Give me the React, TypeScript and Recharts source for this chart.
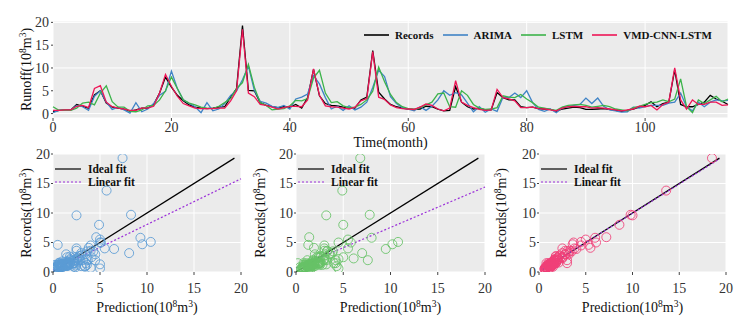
import {
  LineChart,
  Line,
  ScatterChart,
  Scatter,
  XAxis,
  YAxis,
  CartesianGrid,
  ReferenceLine,
  Legend,
  Label,
} from "recharts";

// monthly runoff, 10^8 m^3
const records = [
  0.4, 0.7, 0.8, 0.8, 2.0, 1.6, 1.2, 4.1, 5.0, 2.3,
  1.4, 1.2, 1.0, 0.5, 0.8, 1.2, 1.2, 2.0, 4.5, 8.0,
  5.8, 4.0, 2.8, 1.9, 1.4, 1.2, 1.1, 1.2, 1.4, 1.5,
  3.6, 5.5, 19.3, 5.1, 5.0, 2.4, 1.8, 1.5, 1.3, 1.5,
  1.4, 2.0, 1.2, 3.5, 9.7, 3.9, 2.2, 1.8, 1.7, 1.4,
  1.2, 1.2, 3.0, 3.6, 13.8, 4.7, 3.2, 2.0, 1.5, 1.2,
  1.0, 0.9, 1.0, 1.6, 1.5, 1.0, 0.6, 0.7, 5.9, 2.5,
  1.5, 1.0, 1.2, 0.8, 0.8, 4.6, 3.5, 3.0, 3.0, 1.5,
  1.3, 1.4, 1.1, 1.0, 0.9, 0.5, 1.0, 1.2, 1.4, 1.3,
  0.9, 0.9, 1.0, 1.1, 0.9, 0.7, 0.5, 0.7, 1.0, 1.4,
  1.8, 2.6, 1.5, 2.2, 2.5, 9.6, 2.0, 1.5, 1.5, 2.0,
  2.5, 4.0, 3.2, 2.7, 2.0,
];

const arima = [
  0.2, 0.7, 0.8, 0.8, 1.8, 1.5, 0.7, 3.8, 5.0, 2.5,
  0.9, 1.4, 0.8, 0.1, 2.4, 0.4, 1.0, 2.2, 4.0, 4.9,
  9.3, 5.5, 3.0, 2.2, 1.5, 0.2, 2.4, 0.6, 1.0, 2.2,
  4.0, 5.0, 7.4, 10.4, 5.1, 2.7, 2.3, 1.6, 1.3, 1.8,
  1.0, 3.2, 3.6, 4.3, 8.3, 6.5, 3.5, 1.0, 1.6, 0.7,
  1.7, 0.8, 1.4, 2.5, 5.7, 9.5, 8.1, 3.7, 2.2, 1.3,
  1.0, 0.6, 1.5, 0.7, 1.6, 3.0, 5.0, 4.0, 4.6, 4.1,
  2.3, 0.4, 1.5, 0.3, 1.0, 0.5, 3.6, 3.5, 4.5, 3.5,
  5.0, 2.4, 0.9, 0.5, 1.0, 0.2, 1.3, 1.5, 1.8, 2.0,
  3.4, 2.2, 3.4, 1.6, 0.8, 0.6, 0.3, 0.4, 1.4, 1.2,
  1.5, 1.8, 1.8, 1.8, 2.3, 2.5, 4.5, 1.5, 0.6, 2.5,
  1.5, 2.5, 3.0, 2.8, 2.9,
];

const lstm = [
  1.5, 0.7, 0.8, 0.7, 1.2, 2.3, 2.5, 1.9, 4.5, 6.1,
  2.6, 1.4, 1.4, 0.5, 0.4, 0.8, 1.7, 1.8, 3.0, 5.0,
  8.0, 5.5, 3.0, 2.3, 1.9, 1.4, 1.2, 1.1, 1.6, 2.4,
  3.3, 5.5, 6.8, 10.8, 5.8, 2.4, 1.8, 0.8, 1.0, 1.1,
  1.7, 2.9, 2.8, 3.3, 7.8, 9.5, 4.5, 2.4, 2.6, 1.7,
  1.3, 1.4, 2.0, 3.0, 4.9, 10.2, 7.0, 4.2, 2.4, 1.5,
  1.1, 0.9, 1.3, 1.9, 2.5, 4.3, 4.5, 1.5, 1.4, 5.0,
  4.0, 2.0, 1.2, 0.9, 1.0, 1.3, 3.9, 3.6, 3.5, 4.2,
  3.2, 2.4, 1.4, 1.2, 0.9, 0.7, 1.4, 1.8, 1.9, 2.0,
  1.8, 1.4, 1.6, 1.8, 1.5, 1.0, 0.8, 0.6, 1.3, 1.6,
  2.0, 2.4, 2.5, 3.0, 2.6, 3.2, 7.6, 1.5, 0.2, 3.0,
  2.2, 3.0, 3.8, 2.6, 3.2,
];

const vmdCnnLstm = [
  0.7, 0.7, 0.8, 0.8, 1.6, 1.8, 1.3, 5.5, 6.1, 2.5,
  1.5, 1.2, 1.0, 0.7, 0.7, 1.2, 1.2, 1.6, 4.5, 8.6,
  6.0, 3.8, 2.2, 1.7, 1.2, 1.1, 1.1, 1.1, 1.2, 1.2,
  2.8, 5.0, 18.5, 4.5, 3.7, 2.0, 1.8, 1.4, 1.0, 1.3,
  1.6, 1.6, 1.5, 3.0, 9.8, 4.0, 1.7, 1.5, 1.4, 1.2,
  1.0, 1.4, 2.8, 3.3, 13.6, 3.6, 3.1, 1.9, 1.3, 1.1,
  1.0, 0.9, 1.4, 2.1, 1.8, 1.0, 0.6, 1.2, 7.2, 2.5,
  1.8, 1.3, 0.9, 0.7, 0.8, 5.3, 3.5, 3.2, 2.8, 1.3,
  1.3, 1.4, 1.1, 1.0, 0.8, 0.6, 1.2, 1.5, 1.6, 1.5,
  1.5, 1.2, 1.3, 1.2, 1.0, 0.8, 0.6, 0.8, 1.0, 1.6,
  1.5, 1.8, 0.8, 2.0, 2.5, 10.0, 3.0, 1.0, 3.0, 2.0,
  2.0, 2.5, 2.5, 1.8, 1.9,
];

const timeTicks = [0, 20, 40, 60, 80, 100];
const runoffTicks = [0, 5, 10, 15, 20];
const scatterTicks = [0, 5, 10, 15, 20];

// linear fit of records on prediction
const fitSlopes = [0.775, 0.685, 0.99];
const fitIntercepts = [0.3, 0.7, 0.05];
const fitFrom = [0, 0, 0.4];
const fitTo = [20, 20, 19.3];
const idealFrom = [0, 0, 0.4];
const idealTo = [19.3, 19.3, 19.3];

const SERIF = '"Liberation Serif", "Times New Roman", serif';
const PANEL_BG = "#EBEBEB";
const FIT_PURPLE = "#9b30d9";

const seriesColors = {
  records: "#000000",
  arima: "#3f83c6",
  lstm: "#3bb34a",
  vmd: "#ee1556",
};
const pointColors = ["#5b9bd5", "#66c266", "#f03f78"];

const timeRows = records.map((r, i) => ({
  month: i,
  records: r,
  arima: arima[i],
  lstm: lstm[i],
  vmd: vmdCnnLstm[i],
}));

const predictions = [arima, lstm, vmdCnnLstm];

const panels = [
  { key: "arima", left: 53, width: 188, titleOffset: 22 },
  { key: "lstm", left: 296, width: 189, titleOffset: 31 },
  { key: "vmd", left: 539, width: 187, titleOffset: 33 },
];

const tickStyle = { fontSize: 14, fill: "#333", fontFamily: SERIF };

function UnitTitle({ x, y, name, vertical, size = 14 }: any) {
  const up = size * 0.38;
  return (
    <text
      x={x}
      y={y}
      textAnchor="middle"
      fontFamily={SERIF}
      fontSize={size}
      fill="#111"
      transform={vertical ? `rotate(-90 ${x} ${y})` : undefined}
    >
      {name}(10
      <tspan dy={-up} fontSize={size * 0.68}>8</tspan>
      <tspan dy={up}>m</tspan>
      <tspan dy={-up} fontSize={size * 0.68}>3</tspan>
      <tspan dy={up}>)</tspan>
    </text>
  );
}

const topLegendItems = [
  { label: "Records", color: seriesColors.records },
  { label: "ARIMA", color: seriesColors.arima },
  { label: "LSTM", color: seriesColors.lstm },
  { label: "VMD-CNN-LSTM", color: seriesColors.vmd },
];

function TopLegend() {
  return (
    <div
      style={{
        display: "flex",
        alignItems: "center",
        fontFamily: SERIF,
        fontWeight: 700,
        fontSize: 11,
        color: "#111",
        whiteSpace: "nowrap",
      }}
    >
      {topLegendItems.map((it) => (
        <div key={it.label} style={{ display: "flex", alignItems: "center", marginRight: 9 }}>
          <svg width={25} height={4}>
            <line x1={0} y1={2} x2={25} y2={2} stroke={it.color} strokeWidth={1.6} />
          </svg>
          <span style={{ marginLeft: 6 }}>{it.label}</span>
        </div>
      ))}
    </div>
  );
}

function FitLegend() {
  const font = { fontFamily: SERIF, fontWeight: 700, fontSize: 11.5, fill: "#111" };
  return (
    <svg width={110} height={28}>
      <line x1={0} y1={6} x2={26} y2={6} stroke="#000" strokeWidth={1.2} />
      <text x={33} y={10} {...font}>Ideal fit</text>
      <line x1={0} y1={19} x2={26} y2={19} stroke={FIT_PURPLE} strokeWidth={1.2} strokeDasharray="2 2" />
      <text x={33} y={23} {...font}>Linear fit</text>
    </svg>
  );
}

function RunoffChart() {
  return (
    <LineChart width={750} height={150} data={timeRows} margin={{ top: 21, right: 22, bottom: 0, left: 8 }}>
      <CartesianGrid fill={PANEL_BG} stroke="#fff" strokeWidth={1} />
      <XAxis
        type="number"
        dataKey="month"
        domain={[0, 114]}
        ticks={timeTicks}
        height={32}
        tickSize={3}
        tickMargin={1}
        tick={tickStyle}
        axisLine={false}
        tickLine={{ stroke: "#444" }}
      >
        <Label
          content={(p: any) => (
            <text
              x={p.viewBox.x + p.viewBox.width / 2}
              y={p.viewBox.y + 29}
              textAnchor="middle"
              fontFamily={SERIF}
              fontSize={14}
              fill="#111"
            >
              Time(month)
            </text>
          )}
        />
      </XAxis>
      <YAxis
        type="number"
        domain={[-0.97, 20.3]}
        ticks={runoffTicks}
        width={45}
        tickSize={2}
        tickMargin={2}
        tick={tickStyle}
        axisLine={false}
        tickLine={{ stroke: "#444" }}
        allowDataOverflow
      >
        <Label
          content={(p: any) => (
            <UnitTitle
              x={p.viewBox.x + p.viewBox.width - 22}
              y={p.viewBox.y + p.viewBox.height / 2}
              name="Runoff"
              vertical
            />
          )}
        />
      </YAxis>
      <Legend
        verticalAlign="middle"
        align="center"
        wrapperStyle={{ left: 364, top: 29, width: 380 }}
        content={() => <TopLegend />}
      />
      <Line type="linear" dataKey="records" name="Records" stroke={seriesColors.records} strokeWidth={1.3} dot={false} isAnimationActive={false} />
      <Line type="linear" dataKey="arima" name="ARIMA" stroke={seriesColors.arima} strokeWidth={1.3} dot={false} isAnimationActive={false} />
      <Line type="linear" dataKey="lstm" name="LSTM" stroke={seriesColors.lstm} strokeWidth={1.3} dot={false} isAnimationActive={false} />
      <Line type="linear" dataKey="vmd" name="VMD-CNN-LSTM" stroke={seriesColors.vmd} strokeWidth={1.3} dot={false} isAnimationActive={false} />
    </LineChart>
  );
}

function FitPanel({ k }: { k: number }) {
  const panel = panels[k];
  const pts = predictions[k].map((p, i) => ({ x: p, y: records[i] }));
  const color = pointColors[k];
  const x0 = fitFrom[k];
  const x1 = fitTo[k];
  return (
    <ScatterChart
      width={50 + panel.width + 12}
      height={185}
      margin={{ top: 14, right: 12, bottom: 0, left: 0 }}
    >
      <CartesianGrid fill={PANEL_BG} stroke="#fff" strokeWidth={1} />
      <XAxis
        type="number"
        dataKey="x"
        domain={[0, 20]}
        ticks={scatterTicks}
        height={53}
        tickSize={3}
        tickMargin={8}
        tick={tickStyle}
        axisLine={false}
        tickLine={{ stroke: "#444" }}
        allowDataOverflow
      >
        <Label
          content={(p: any) => (
            <UnitTitle x={p.viewBox.x + p.viewBox.width / 2} y={p.viewBox.y + 40} name="Prediction" />
          )}
        />
      </XAxis>
      <YAxis
        type="number"
        dataKey="y"
        domain={[0, 20]}
        ticks={scatterTicks}
        width={50}
        tickSize={2}
        tickMargin={1}
        tick={tickStyle}
        axisLine={false}
        tickLine={{ stroke: "#444" }}
        allowDataOverflow
      >
        <Label
          content={(p: any) => (
            <UnitTitle
              x={p.viewBox.x + p.viewBox.width - panel.titleOffset}
              y={p.viewBox.y + p.viewBox.height / 2}
              name="Records"
              vertical
            />
          )}
        />
      </YAxis>
      <Legend
        verticalAlign="middle"
        align="center"
        wrapperStyle={{ left: 52, top: 23, width: 110 }}
        content={() => <FitLegend />}
      />
      <Scatter
        data={pts}
        isAnimationActive={false}
        shape={(s: any) => (
          <circle cx={s.cx} cy={s.cy} r={4.5} fill="none" stroke={color} strokeWidth={1} strokeOpacity={0.85} />
        )}
      />
      <ReferenceLine
        segment={[
          { x: idealFrom[k], y: idealFrom[k] },
          { x: idealTo[k], y: idealTo[k] },
        ]}
        stroke="#000"
        strokeWidth={1.2}
        ifOverflow="visible"
      />
      <ReferenceLine
        segment={[
          { x: x0, y: fitIntercepts[k] + fitSlopes[k] * x0 },
          { x: x1, y: fitIntercepts[k] + fitSlopes[k] * x1 },
        ]}
        stroke={FIT_PURPLE}
        strokeWidth={1.2}
        strokeDasharray="2 2"
        ifOverflow="visible"
      />
    </ScatterChart>
  );
}

export default function App() {
  return (
    <div
      style={{
        position: "absolute",
        left: 0,
        top: 0,
        width: 750,
        height: 325,
        background: "#fff",
        overflow: "hidden",
      }}
    >
      <div style={{ position: "absolute", left: 0, top: 0 }}>
        <RunoffChart />
      </div>
      {panels.map((panel, k) => (
        <div key={panel.key} style={{ position: "absolute", left: panel.left - 50, top: 140 }}>
          <FitPanel k={k} />
        </div>
      ))}
    </div>
  );
}
